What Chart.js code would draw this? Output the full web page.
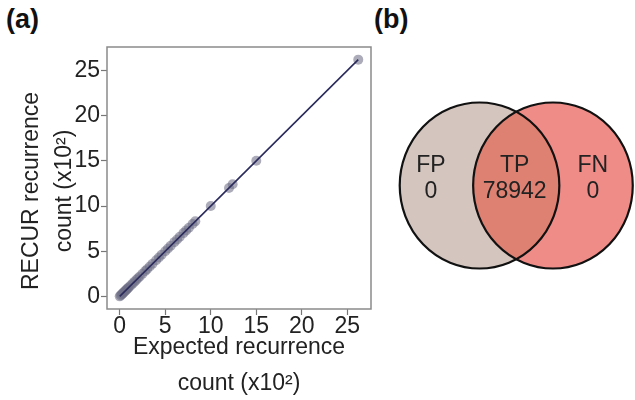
<!DOCTYPE html>
<html>
<head>
<meta charset="utf-8">
<script src="https://cdn.jsdelivr.net/npm/chart.js@4.4.1/dist/chart.umd.min.js"></script>
<style>
  body { margin: 0; width: 635px; height: 400px; background: #fff; position: relative; overflow: hidden; font-family: 'Liberation Sans', Arial, sans-serif; }
  canvas { position: absolute; top: 0; }
  #chartA { left: 0; }
  #chartB { left: 380px; }
  .panel { position: absolute; font-weight: bold; font-size: 27px; color: #111; }
  #ytitle { position: absolute; left: -83.5px; top: 158px; width: 260px; height: 66px; line-height: 33px; font-size: 23px; text-align: center; color: #222; transform: rotate(-90deg); white-space: nowrap; }
</style>
</head>
<body>
<div class="panel" style="left:6px; top:4px;">(a)</div>
<div class="panel" style="left:374px; top:4px;">(b)</div>
<canvas id="chartA" width="380" height="400"></canvas>
<canvas id="chartB" width="255" height="400"></canvas>
<div id="ytitle">RECUR recurrence<br>count (x10²)</div>
<script>
// recurrence counts (x10^2)
const expectedCount = [0, 0.1, 0.2, 0.3, 0.4, 0.5, 0.6, 0.7, 0.8, 0.9, 1.0, 1.2, 1.4, 1.6, 1.8, 2.0, 2.2, 2.5, 2.8, 3.0, 3.3, 3.6, 4.0, 4.3, 4.6, 5.0, 5.3, 5.6, 6.0, 6.3, 6.6, 7.0, 7.3, 7.6, 8.0, 8.3, 10.0, 12.0, 12.4, 15.0, 26.2];
const recurCount    = [0, 0.1, 0.2, 0.3, 0.4, 0.5, 0.6, 0.7, 0.8, 0.9, 1.0, 1.2, 1.4, 1.6, 1.8, 2.0, 2.2, 2.5, 2.8, 3.0, 3.3, 3.6, 4.0, 4.3, 4.6, 5.0, 5.3, 5.6, 6.0, 6.3, 6.6, 7.0, 7.3, 7.6, 8.0, 8.3, 10.0, 12.0, 12.4, 15.0, 26.2];
const fitX = [0, 26.2];
const fitY = [0, 26.2];
const axisTicks = [0, 5, 10, 15, 20, 25];

// venn counts
const vennLabels = ['FP', 'TP', 'FN'];
const vennCounts = [0, 78942, 0];

const FONT = "'Liberation Sans', Arial, sans-serif";
Chart.defaults.font.family = FONT;
Chart.defaults.color = '#222';

// box around the plot area
const frame = {
    id: 'frame',
    afterDraw(chart) {
        const a = chart.chartArea, ctx = chart.ctx;
        ctx.save();
        ctx.strokeStyle = '#8a8a8a';
        ctx.lineWidth = 1.5;
        ctx.strokeRect(a.left, a.top, a.right - a.left, a.bottom - a.top);
        ctx.restore();
    }
};

const axisOpts = {
    min: -1.4,
    max: 27.6,
    afterBuildTicks: s => { s.ticks = axisTicks.map(v => ({ value: v })); },
    grid: { drawOnChartArea: false, tickLength: 6, tickColor: '#777', tickWidth: 1.2 },
    border: { display: false },
    ticks: { font: { size: 23 }, color: '#222', padding: 1 }
};

new Chart(document.getElementById('chartA'), {
    type: 'scatter',
    data: {
        datasets: [{
            data: fitX.map((x, i) => ({ x: x, y: fitY[i] })),
            showLine: true,
            borderColor: '#2a2a5c',
            borderWidth: 1.6,
            pointRadius: 0,
            order: 0
        }, {
            data: expectedCount.map((x, i) => ({ x: x, y: recurCount[i] })),
            backgroundColor: 'rgba(110,110,135,0.58)',
            borderWidth: 0,
            pointRadius: 5,
            order: 1
        }]
    },
    options: {
        responsive: false,
        animation: false,
        layout: { padding: { top: 47, right: 9, left: 0, bottom: 0 } },
        plugins: { legend: { display: false }, tooltip: { enabled: false } },
        scales: {
            x: Object.assign({}, axisOpts, {
                afterFit: s => { s.height = 91; },
                ticks: { font: { size: 23 }, color: '#222', padding: -2 },
                title: {
                    display: true,
                    text: ['Expected recurrence', 'count (x10²)'],
                    font: { size: 23, lineHeight: 36 / 23 },
                    color: '#222',
                    padding: { top: 0, bottom: -2 }
                }
            }),
            y: Object.assign({}, axisOpts, {
                afterFit: s => { s.width = 107; }
            })
        }
    },
    plugins: [frame]
});

// venn diagram geometry in data units
const vennCircleX = [-0.46, 0.46];
const vennRadius = 1;
const labelPos = [[-1.07, 0.235, -0.08], [-0.02, 0.235, -0.08], [0.96, 0.235, -0.08]];

const venn = {
    id: 'venn',
    afterDatasetsDraw(chart) {
        const xs = chart.scales.x, ys = chart.scales.y, ctx = chart.ctx;
        const rx = xs.getPixelForValue(vennRadius) - xs.getPixelForValue(0);
        const ry = ys.getPixelForValue(0) - ys.getPixelForValue(vennRadius);
        const cy = ys.getPixelForValue(0);
        const cx = vennCircleX.map(v => xs.getPixelForValue(v));
        const path = i => { ctx.beginPath(); ctx.ellipse(cx[i], cy, rx, ry, 0, 0, Math.PI * 2); };
        ctx.save();
        path(0); ctx.fillStyle = '#d4c5bf'; ctx.fill();
        path(1); ctx.fillStyle = '#f08c88'; ctx.fill();
        ctx.save();
        path(0); ctx.clip();
        path(1); ctx.fillStyle = '#de8172'; ctx.fill();
        ctx.restore();
        ctx.strokeStyle = '#111';
        ctx.lineWidth = 2.2;
        path(0); ctx.stroke();
        path(1); ctx.stroke();
        ctx.fillStyle = '#222';
        ctx.font = '23px ' + FONT;
        ctx.textAlign = 'center';
        ctx.textBaseline = 'middle';
        vennLabels.forEach((lab, i) => {
            const p = labelPos[i];
            ctx.fillText(lab, xs.getPixelForValue(p[0]), ys.getPixelForValue(p[1]));
            ctx.fillText(String(vennCounts[i]), xs.getPixelForValue(p[0]), ys.getPixelForValue(p[2]));
        });
        ctx.restore();
    }
};

new Chart(document.getElementById('chartB'), {
    type: 'scatter',
    data: { datasets: [{ data: vennCircleX.map(x => ({ x: x, y: 0 })), pointRadius: 0 }] },
    options: {
        responsive: false,
        animation: false,
        layout: { padding: 0 },
        plugins: { legend: { display: false }, tooltip: { enabled: false } },
        scales: {
            x: { display: false, min: -1.707, max: 1.488 },
            y: { display: false, min: -2.584, max: 2.235 }
        }
    },
    plugins: [venn]
});
</script>
</body>
</html>
